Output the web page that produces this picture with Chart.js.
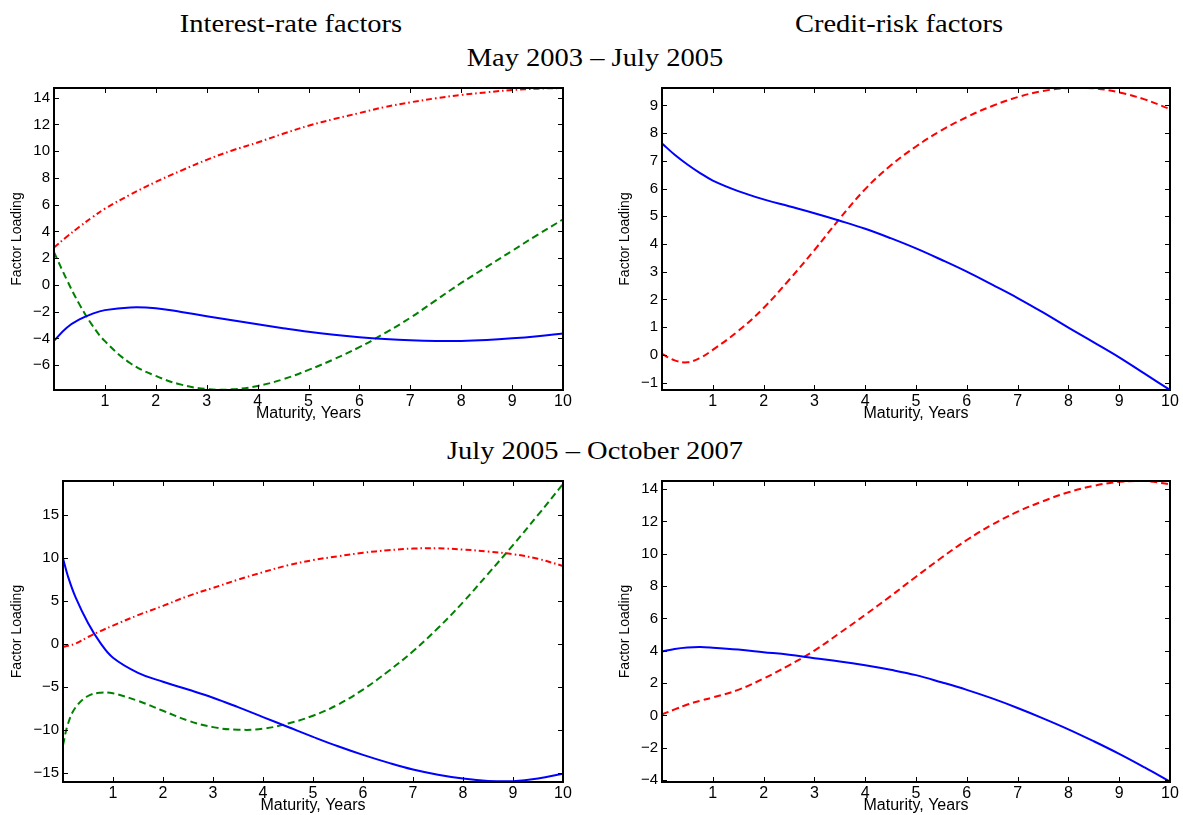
<!DOCTYPE html>
<html>
<head>
<meta charset="utf-8">
<script src="https://cdn.jsdelivr.net/npm/chart.js@4.4.1/dist/chart.umd.min.js"></script>
<style>
  body { margin: 0; background: #fff; width: 1183px; height: 815px; position: relative; overflow: hidden; }
  canvas { position: absolute; }
  .head {
    position: absolute; width: 400px; text-align: center;
    font-family: "Liberation Serif", "Times New Roman", serif;
    font-size: 25px; line-height: 25px; color: #000;
    transform: scaleX(1.14);
  }
</style>
</head>
<body>
<div class="head" style="left:91px; top:11px;">Interest-rate factors</div>
<div class="head" style="left:699px; top:11px;">Credit-risk factors</div>
<div class="head" style="left:395px; top:45px;">May 2003 – July 2005</div>
<div class="head" style="left:395px; top:438px;">July 2005 – October 2007</div>

<canvas id="c1"></canvas>
<canvas id="c2"></canvas>
<canvas id="c3"></canvas>
<canvas id="c4"></canvas>

<script>
// maturity grid (years)
const maturity = [0, 0.25, 0.5, 0.75, 1, 1.5, 2, 2.5, 3, 3.5, 4, 4.5, 5, 5.5, 6, 6.5, 7, 7.5, 8, 8.5, 9, 9.5, 10];
const maturityFine = [0, 0.1, 0.25, 0.5, 0.75, 1, 1.5, 2, 2.5, 3, 3.5, 4, 4.5, 5, 5.5, 6, 6.5, 7, 7.5, 8, 8.5, 9, 9.5, 10];

// May 2003 - July 2005, interest-rate factors
const ir1Level = [-4.17, -3.19, -2.58, -2.16, -1.88, -1.68, -1.74, -2.02, -2.33, -2.64, -2.94, -3.23, -3.5, -3.72, -3.9, -4.04, -4.14, -4.19, -4.18, -4.11, -3.99, -3.83, -3.63];
const ir1Slope = [2.45, 0.4, -1.45, -3.0, -4.2, -5.85, -6.8, -7.45, -7.78, -7.8, -7.55, -7.05, -6.35, -5.55, -4.65, -3.6, -2.45, -1.15, 0.15, 1.35, 2.55, 3.75, 4.9];
const ir1Curve = [2.8, 3.6, 4.35, 5.05, 5.7, 6.75, 7.7, 8.55, 9.35, 10.05, 10.65, 11.3, 11.9, 12.4, 12.85, 13.3, 13.65, 13.95, 14.2, 14.4, 14.57, 14.67, 14.72];

// May 2003 - July 2005, credit-risk factors
const cr1Level = [7.63, 7.22, 6.87, 6.56, 6.29, 5.91, 5.61, 5.36, 5.11, 4.84, 4.55, 4.21, 3.84, 3.43, 3.0, 2.53, 2.05, 1.53, 0.98, 0.45, -0.09, -0.68, -1.27];
const cr1Slope = [0.03, -0.2, -0.27, -0.11, 0.18, 0.86, 1.69, 2.7, 3.78, 4.92, 5.98, 6.83, 7.52, 8.1, 8.58, 8.98, 9.3, 9.52, 9.63, 9.62, 9.47, 9.22, 8.87];

// July 2005 - October 2007, interest-rate factors
const ir2Level = [9.95, 7.85, 5.45, 2.45, 0.1, -1.6, -3.35, -4.4, -5.3, -6.25, -7.35, -8.5, -9.65, -10.8, -11.9, -12.9, -13.8, -14.6, -15.2, -15.65, -15.92, -15.95, -15.65, -15.08];
const ir2Slope = [-11.77, -9.29, -7.39, -6.05, -5.67, -5.74, -6.62, -7.77, -8.91, -9.67, -9.97, -9.86, -9.25, -8.34, -7.05, -5.3, -3.2, -0.85, 1.85, 4.85, 8.15, 11.5, 15.0, 18.6];
const ir2Curve = [-0.34, -0.2, 0.04, 0.81, 1.5, 2.14, 3.35, 4.43, 5.57, 6.52, 7.47, 8.35, 9.15, 9.75, 10.2, 10.6, 10.9, 11.09, 11.12, 10.98, 10.75, 10.44, 9.9, 9.07];

// July 2005 - October 2007, credit-risk factors
const cr2Level = [3.95, 4.11, 4.2, 4.23, 4.19, 4.07, 3.91, 3.75, 3.54, 3.34, 3.1, 2.82, 2.49, 2.05, 1.58, 1.05, 0.46, -0.18, -0.86, -1.6, -2.38, -3.22, -4.1];
const cr2Slope = [0.06, 0.37, 0.67, 0.9, 1.11, 1.58, 2.28, 3.1, 4.01, 5.1, 6.22, 7.38, 8.58, 9.75, 10.85, 11.8, 12.6, 13.25, 13.8, 14.2, 14.45, 14.5, 14.3];

// tick positions
const xTicks = [1, 2, 3, 4, 5, 6, 7, 8, 9, 10];
const yTicks1 = [-6, -4, -2, 0, 2, 4, 6, 8, 10, 12, 14];
const yTicks2 = [-1, 0, 1, 2, 3, 4, 5, 6, 7, 8, 9];
const yTicks3 = [-15, -10, -5, 0, 5, 10, 15];
const yTicks4 = [-4, -2, 0, 2, 4, 6, 8, 10, 12, 14];

const SANS = "'Liberation Sans', Arial, Helvetica, sans-serif";
const BLUE = '#0000ff', GREEN = '#008000', RED = '#ff0000';

// boxed axes with inward ticks on all four sides
const boxAxes = {
  id: 'boxAxes',
  afterDraw(chart) {
    const { ctx, chartArea: a, scales: { x, y } } = chart;
    const t = 5;
    ctx.save();
    ctx.strokeStyle = '#000';
    ctx.lineWidth = 1;
    ctx.beginPath();
    x.ticks.forEach(tk => {
      const px = Math.round(x.getPixelForValue(tk.value)) + 0.5;
      ctx.moveTo(px, a.bottom); ctx.lineTo(px, a.bottom - t);
      ctx.moveTo(px, a.top); ctx.lineTo(px, a.top + t);
    });
    y.ticks.forEach(tk => {
      const py = Math.round(y.getPixelForValue(tk.value)) + 0.5;
      ctx.moveTo(a.left, py); ctx.lineTo(a.left + t, py);
      ctx.moveTo(a.right, py); ctx.lineTo(a.right - t, py);
    });
    ctx.stroke();
    ctx.lineWidth = 2;
    ctx.strokeRect(a.left, a.top, a.right - a.left, a.bottom - a.top);
    ctx.restore();
  }
};

function line(xs, ys, color, dash) {
  return {
    data: xs.map((v, i) => ({ x: v, y: ys[i] })),
    borderColor: color,
    borderWidth: 2,
    borderDash: dash,
    pointRadius: 0,
    fill: false,
    tension: 0.4
  };
}

function makePanel(id, box, area, yMin, yMax, yTicks, datasets) {
  const el = document.getElementById(id);
  el.width = box.width;
  el.height = box.height;
  el.style.left = box.left + 'px';
  el.style.top = box.top + 'px';

  const yWidth = area.left - box.left;
  const xHeight = box.top + box.height - area.bottom;

  new Chart(el, {
    type: 'line',
    data: { datasets },
    plugins: [boxAxes],
    options: {
      responsive: false,
      animation: false,
      events: [],
      layout: {
        padding: { left: 0, top: area.top - box.top, right: box.left + box.width - area.right, bottom: 0 }
      },
      plugins: { legend: { display: false }, tooltip: { enabled: false } },
      scales: {
        x: {
          type: 'linear', min: 0, max: 10,
          afterBuildTicks: s => { s.ticks = xTicks.map(v => ({ value: v })); },
          afterFit: s => { s.height = xHeight; },
          grid: { display: false, drawTicks: false },
          border: { display: false },
          ticks: { color: '#000', padding: 2, maxRotation: 0, autoSkip: false, font: { family: SANS, size: 16 } },
          title: { display: true, text: 'Maturity, Years', color: '#000', padding: { top: 0, bottom: 0 }, font: { family: SANS, size: 16 } }
        },
        y: {
          type: 'linear', min: yMin, max: yMax,
          afterBuildTicks: s => { s.ticks = yTicks.map(v => ({ value: v })); },
          afterFit: s => { s.width = yWidth; },
          grid: { display: false, drawTicks: false },
          border: { display: false },
          ticks: {
            color: '#000', padding: 4, autoSkip: false, font: { family: SANS, size: 15 },
            callback: v => v < 0 ? '\u2212' + Math.abs(v) : String(v)
          },
          title: { display: true, text: 'Factor Loading', color: '#000', padding: { top: 9, bottom: 0 }, font: { family: SANS, size: 14 } }
        }
      }
    }
  });
}

const dashed = [7, 4];
const dashDot = [6, 3, 1.5, 3];

makePanel('c1', { left: 0, top: 75, width: 580, height: 348 }, { left: 54, top: 83, right: 563, bottom: 390 },
  -7.85, 14.72, yTicks1, [
    line(maturity, ir1Level, BLUE, []),
    line(maturity, ir1Slope, GREEN, dashed),
    line(maturity, ir1Curve, RED, dashDot)
  ]);

makePanel('c2', { left: 608, top: 75, width: 575, height: 348 }, { left: 662, top: 84, right: 1170, bottom: 390 },
  -1.27, 9.63, yTicks2, [
    line(maturity, cr1Level, BLUE, []),
    line(maturity, cr1Slope, RED, dashed)
  ]);

makePanel('c3', { left: 0, top: 468, width: 580, height: 347 }, { left: 63, top: 476, right: 563, bottom: 782 },
  -16.05, 18.95, yTicks3, [
    line(maturityFine, ir2Level, BLUE, []),
    line(maturityFine, ir2Slope, GREEN, dashed),
    line(maturityFine, ir2Curve, RED, dashDot)
  ]);

makePanel('c4', { left: 608, top: 468, width: 575, height: 347 }, { left: 662, top: 476, right: 1170, bottom: 782 },
  -4.12, 14.5, yTicks4, [
    line(maturity, cr2Level, BLUE, []),
    line(maturity, cr2Slope, RED, dashed)
  ]);
</script>
</body>
</html>
